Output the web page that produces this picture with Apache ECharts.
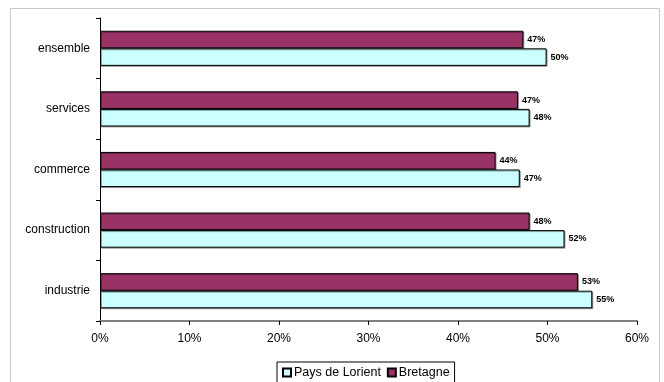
<!DOCTYPE html>
<html><head><meta charset="utf-8">
<script src="https://cdn.jsdelivr.net/npm/echarts@6/dist/echarts.min.js"></script>
<style>html,body{margin:0;padding:0;background:#fff}#c{width:664px;height:382px}</style>
</head><body><div id="c"></div>
<script>
const categories = ['ensemble', 'services', 'commerce', 'construction', 'industrie'];
const paysDeLorient = [49.9, 48.0, 46.9, 51.9, 55.0];
const bretagne = [47.3, 46.7, 44.2, 48.0, 53.4];
const seriesNames = ['Pays de Lorient', 'Bretagne'];
const xTicks = [0, 10, 20, 30, 40, 50, 60];

const FONT = '"Liberation Sans", Arial, sans-serif';
const chart = echarts.init(document.getElementById('c'), null, {renderer: 'canvas'});
const labelCfg = {
  show: true, position: 'right', distance: 4,
  fontFamily: FONT, fontSize: 9, fontWeight: 'bold', color: '#000',
  formatter: p => Math.round(p.value) + '%'
};
const shadow = {shadowColor: 'rgba(0,0,0,0.35)', shadowOffsetX: 1, shadowOffsetY: 1, shadowBlur: 0};
chart.setOption({
  animation: false,
  textStyle: {fontFamily: FONT},
  graphic: [{type: 'rect', shape: {x: 10.5, y: 8.5, width: 649, height: 390},
    style: {fill: 'none', stroke: '#c8c8c8', lineWidth: 1}, z: -1}],
  grid: {left: 100, right: 27, top: 18, bottom: 61},
  legend: {
    data: seriesNames, left: 277, top: 362,
    orient: 'horizontal', itemWidth: 8, itemHeight: 8, itemGap: 6,
    icon: 'rect', borderColor: '#000', borderWidth: 1, padding: [4, 5, 6, 5],
    textStyle: {fontFamily: FONT, fontSize: 12.5, color: '#000', padding: [0, 0, 0, -2]}
  },
  xAxis: {
    type: 'value', min: xTicks[0], max: xTicks[xTicks.length - 1], interval: 10,
    axisLine: {show: true, lineStyle: {color: '#808080', width: 2}},
    axisTick: {show: true, length: 4, lineStyle: {color: '#000'}},
    splitLine: {show: false},
    axisLabel: {formatter: v => v + '%', fontFamily: FONT, fontSize: 12, color: '#000', margin: 12}
  },
  yAxis: {
    type: 'category', data: categories, inverse: true,
    axisLine: {show: true, lineStyle: {color: '#000', width: 1}},
    axisTick: {show: true, length: 4, lineStyle: {color: '#000'}},
    axisLabel: {fontFamily: FONT, fontSize: 12, color: '#000', margin: 10}
  },
  series: [
    {name: 'Bretagne', type: 'bar', data: bretagne, barGap: '0%', barCategoryGap: '42%',
     itemStyle: Object.assign({color: '#993366', borderColor: '#000', borderWidth: 1}, shadow),
     label: labelCfg},
    {name: 'Pays de Lorient', type: 'bar', data: paysDeLorient, barGap: '0%', barCategoryGap: '42%',
     itemStyle: Object.assign({color: '#CCFFFF', borderColor: '#000', borderWidth: 1}, shadow),
     label: labelCfg}
  ]
});
</script></body></html>
